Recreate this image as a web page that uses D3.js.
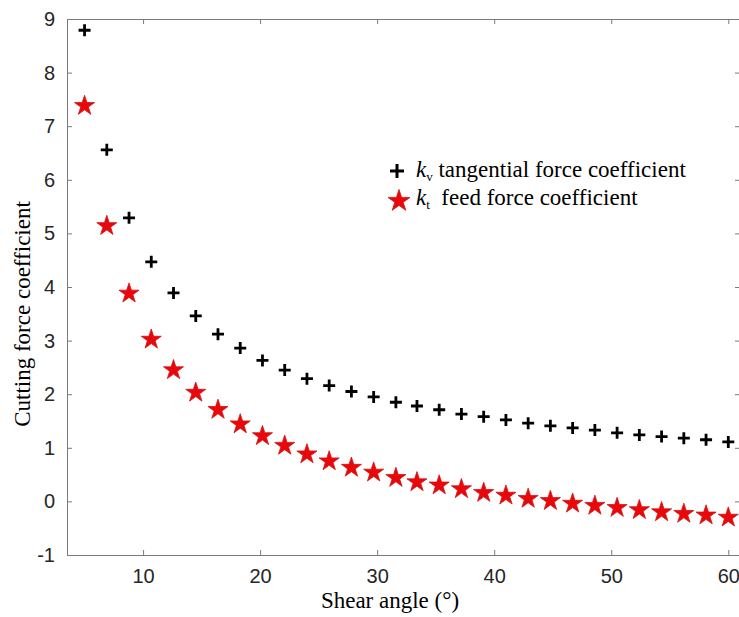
<!DOCTYPE html>
<html>
<head>
<meta charset="utf-8">
<script src="https://cdn.jsdelivr.net/npm/d3@7"></script>
<style>
  body { margin: 0; background: #fff; }
  .tick text { font-family: "Liberation Sans", Arial, sans-serif; font-size: 20px; fill: #262626; }
  .axis path, .axis line { stroke: #7a7a7a; }
  .lbl { font-family: "Liberation Serif", "Times New Roman", serif; font-size: 23px; fill: #000; }
</style>
</head>
<body>
<svg id="chart" width="739" height="617"></svg>
<script>
var shearAngle = [5.0, 6.9, 8.8, 10.7, 12.6, 14.5, 16.4, 18.3, 20.2, 22.1,
                  24.0, 25.9, 27.8, 29.7, 31.6, 33.4, 35.3, 37.2, 39.1, 41.0,
                  42.9, 44.8, 46.7, 48.6, 50.5, 52.4, 54.3, 56.2, 58.1, 60.0];
var kv = [8.79, 6.56, 5.29, 4.47, 3.89, 3.46, 3.12, 2.86, 2.63, 2.45,
          2.29, 2.16, 2.05, 1.95, 1.85, 1.78, 1.71, 1.63, 1.58, 1.52,
          1.46, 1.41, 1.37, 1.33, 1.28, 1.24, 1.21, 1.18, 1.15, 1.11];
var kt = [7.38, 5.14, 3.88, 3.02, 2.45, 2.03, 1.71, 1.44, 1.22, 1.04,
          0.88, 0.75, 0.63, 0.54, 0.44, 0.36, 0.30, 0.23, 0.16, 0.11,
          0.05, 0.01, -0.04, -0.08, -0.12, -0.16, -0.20, -0.23, -0.26, -0.30];
var xTicks = [10, 20, 30, 40, 50, 60];
var yTicks = [-1, 0, 1, 2, 3, 4, 5, 6, 7, 8, 9];

var margin = {top: 19, right: -1, bottom: 62, left: 67};
var width = 739 - margin.left - margin.right;
var height = 617 - margin.top - margin.bottom;

var svg = d3.select("svg#chart");
var g = svg.append("g").attr("transform", "translate(" + margin.left + "," + margin.top + ")");

var x = d3.scaleLinear().domain([3.5, 61]).range([0, width]);
var y = d3.scaleLinear().domain([-1, 9]).range([height, 0]);

// plain hyphen for negatives, like the original
var fmt = d => String(d);

// axes (ticks point inward, matlab style)
g.append("g").attr("class", "axis")
  .attr("transform", "translate(0," + height + ")")
  .call(d3.axisBottom(x).tickValues(xTicks).tickSizeInner(-5).tickSizeOuter(0).tickPadding(14).tickFormat(fmt));
g.append("g").attr("class", "axis")
  .call(d3.axisTop(x).tickValues(xTicks).tickSizeInner(-5).tickSizeOuter(0).tickFormat(""));
g.append("g").attr("class", "axis")
  .call(d3.axisLeft(y).tickValues(yTicks).tickSizeInner(-5).tickSizeOuter(0).tickPadding(12).tickFormat(fmt));
g.append("g").attr("class", "axis")
  .attr("transform", "translate(" + width + ",0)")
  .call(d3.axisRight(y).tickValues(yTicks).tickSizeInner(-5).tickSizeOuter(0).tickFormat(""));

// kv: plus markers
var plusPath = "M-6,0H6M0,-6V6";
g.selectAll("path.kv").data(shearAngle)
  .enter().append("path")
  .attr("class", "kv")
  .attr("d", plusPath)
  .attr("transform", (d, i) => "translate(" + x(d) + "," + y(kv[i]) + ")")
  .attr("stroke", "#000")
  .attr("stroke-width", 2.8)
  .attr("fill", "none");

// kt: star markers
var star = d3.symbol().type(d3.symbolStar).size(125);
g.selectAll("path.kt").data(shearAngle)
  .enter().append("path")
  .attr("class", "kt")
  .attr("d", star)
  .attr("transform", (d, i) => "translate(" + x(d) + "," + y(kt[i]) + ")")
  .attr("fill", "#e8070b")
  .attr("stroke", "#d81010")
  .attr("stroke-width", 0.8);

// legend
var leg = svg.append("g");
leg.append("path").attr("d", "M-7,0H7M0,-7V7")
  .attr("transform", "translate(397,171)")
  .attr("stroke", "#000").attr("stroke-width", 3).attr("fill", "none");
leg.append("path").attr("d", d3.symbol().type(d3.symbolStar).size(150))
  .attr("transform", "translate(399,201)")
  .attr("fill", "#e8070b").attr("stroke", "#d81010").attr("stroke-width", 0.8);

var t1 = leg.append("text").attr("class", "lbl").attr("x", 416).attr("y", 177);
t1.append("tspan").attr("font-style", "italic").text("k");
t1.append("tspan").attr("font-size", "13px").attr("dy", 4).text("v");
t1.append("tspan").attr("dy", -4).text(" tangential force coefficient");

var t2 = leg.append("text").attr("class", "lbl").attr("x", 416).attr("y", 205);
t2.append("tspan").attr("font-style", "italic").text("k");
t2.append("tspan").attr("font-size", "13px").attr("dy", 4).text("t");
t2.append("tspan").attr("dy", -4).text("\u00a0 feed force coefficient");

// axis titles
svg.append("text").attr("class", "lbl")
  .attr("x", 390).attr("y", 608)
  .attr("text-anchor", "middle")
  .text("Shear angle (\u00b0)");
svg.append("text").attr("class", "lbl")
  .attr("transform", "translate(30,314) rotate(-90)")
  .attr("text-anchor", "middle")
  .text("Cutting force coefficient");
</script>
</body>
</html>
